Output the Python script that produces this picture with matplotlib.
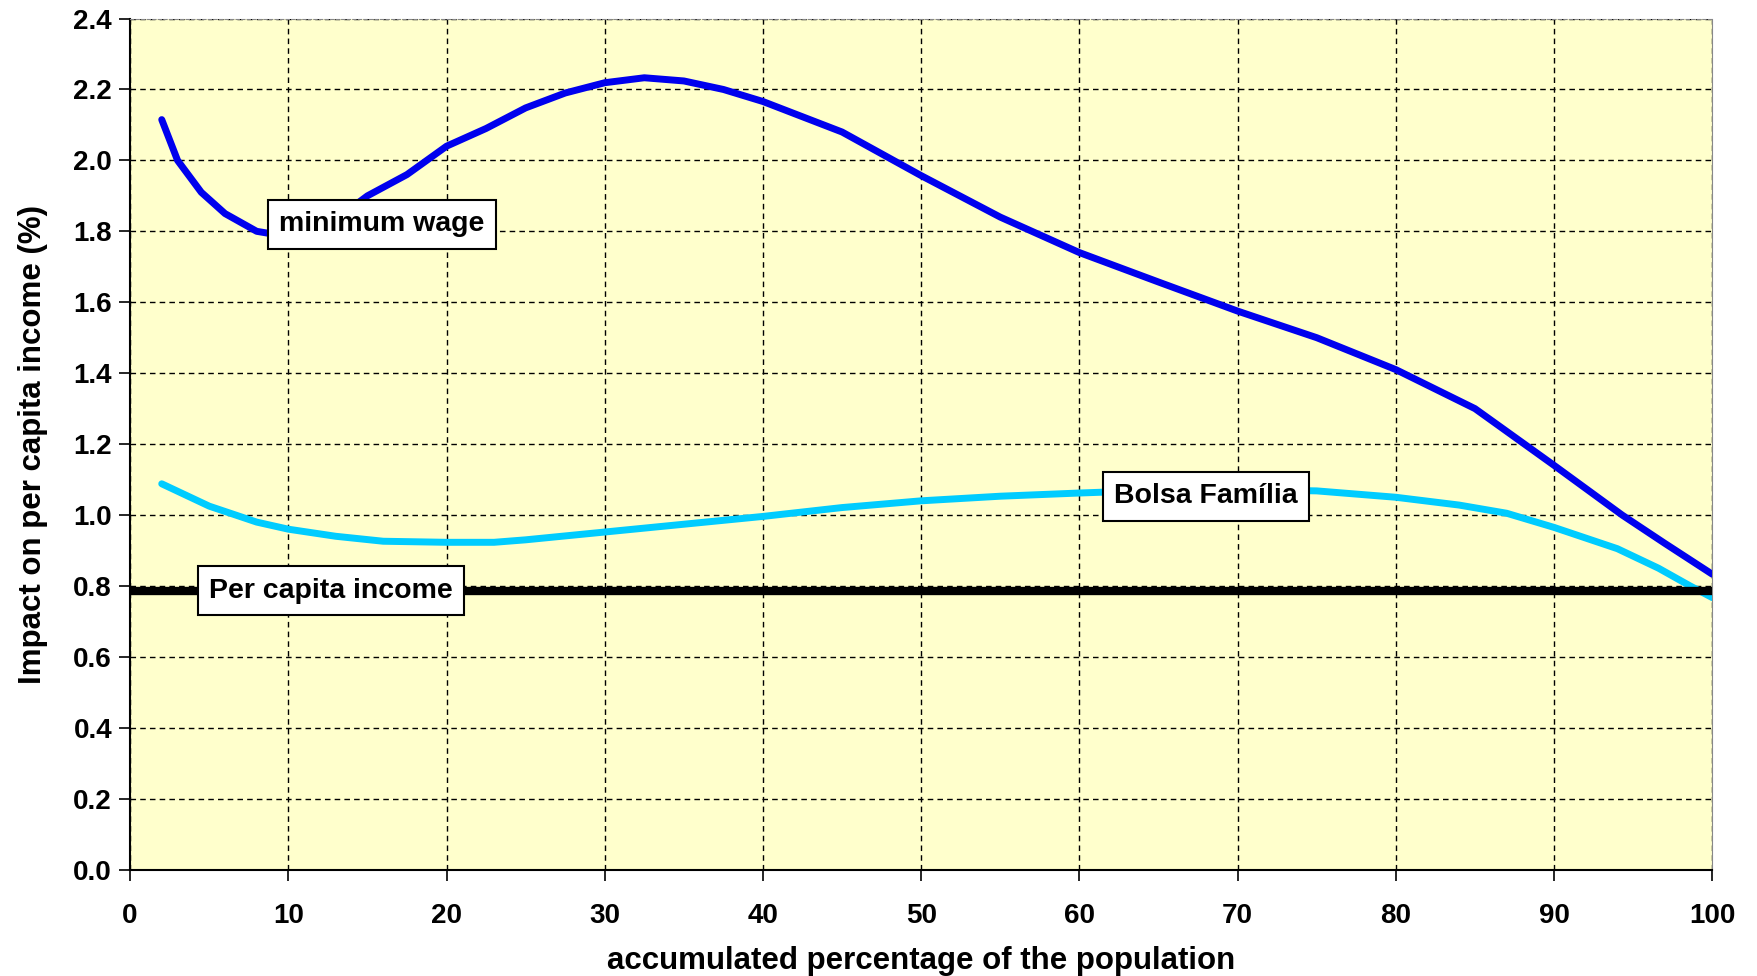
import matplotlib.pyplot as plt

plt.rcParams["font.family"] = ["Liberation Sans", "DejaVu Sans"]
plt.rcParams["font.weight"] = "bold"

# accumulated percentage of the population
wage_x = [2, 3, 4.5, 6, 8, 10, 12, 15, 17.5, 20, 22.5, 25, 27.5, 30, 32.5, 35,
          37.5, 40, 45, 50, 55, 60, 65, 70, 75, 80, 85, 90, 94.3, 97, 100]
wage_y = [2.115, 2.0, 1.91, 1.85, 1.80, 1.785, 1.80, 1.90, 1.96, 2.04, 2.09,
          2.148, 2.19, 2.219, 2.233, 2.224, 2.20, 2.166, 2.08, 1.957, 1.84,
          1.74, 1.657, 1.575, 1.50, 1.41, 1.30, 1.14, 1.0, 0.92, 0.833]

bolsa_x = [2, 5, 8, 10, 13, 16, 20, 23, 25, 30, 35, 40, 45, 50, 55, 60, 65,
           70, 75, 80, 84, 87, 90, 94, 96.6, 98.6, 100]
bolsa_y = [1.088, 1.025, 0.98, 0.96, 0.94, 0.926, 0.923, 0.923, 0.93, 0.952,
           0.974, 0.996, 1.021, 1.04, 1.053, 1.062, 1.07, 1.072, 1.068, 1.05,
           1.028, 1.005, 0.965, 0.905, 0.85, 0.80, 0.767]

per_capita = 0.785

x_ticks = list(range(0, 101, 10))
y_ticks = [i * 0.2 for i in range(13)]

fig = plt.figure(figsize=(17.58, 9.76), dpi=100)
ax = fig.add_axes([0.074, 0.109, 0.9, 0.872])
ax.set_facecolor("#FFFFCC")

ax.plot(wage_x, wage_y, color="#0000EE", lw=5, solid_capstyle="round",
        solid_joinstyle="round", zorder=3)
ax.plot(bolsa_x, bolsa_y, color="#00CCFF", lw=5, solid_capstyle="round",
        solid_joinstyle="round", zorder=3)
ax.axhline(per_capita, color="black", lw=6, zorder=3)

box = dict(boxstyle="square,pad=0.4", fc="white", ec="black", lw=1.5)
ax.text(15.9, 1.82, "minimum wage", fontsize=20.5, fontweight="bold",
        ha="center", va="center", bbox=box, zorder=5)
ax.text(68.0, 1.053, "Bolsa Família", fontsize=20.5, fontweight="bold",
        ha="center", va="center", bbox=box, zorder=5)
ax.text(12.7, 0.787, "Per capita income", fontsize=20.5, fontweight="bold",
        ha="center", va="center", bbox=box, zorder=5)

ax.set_xlim(0, 100)
ax.set_ylim(0, 2.4)
ax.set_xticks(x_ticks)
ax.set_yticks(y_ticks)
ax.set_yticklabels([f"{v:.1f}" for v in y_ticks])
ax.tick_params(direction="out", length=8, width=1.2, labelsize=20)
ax.tick_params(axis="x", pad=16)
ax.tick_params(axis="y", pad=5)
for label in ax.get_xticklabels() + ax.get_yticklabels():
    label.set_fontweight("bold")

ax.grid(True, color="black", ls=(0, (4, 3)), lw=1.0)
ax.set_axisbelow(True)
for side in ["left", "bottom"]:
    ax.spines[side].set_linewidth(1.5)
    ax.spines[side].set_color("black")
ax.spines["top"].set_color("#888888")
ax.spines["top"].set_linestyle((0, (3, 2)))
ax.spines["right"].set_color("#888888")

ax.set_xlabel("accumulated percentage of the population", fontsize=22.5,
              fontweight="bold", labelpad=12)
ax.set_ylabel("Impact on per capita income (%)", fontsize=22.5,
              fontweight="bold", labelpad=18)

fig.savefig("out.png", dpi=100)
